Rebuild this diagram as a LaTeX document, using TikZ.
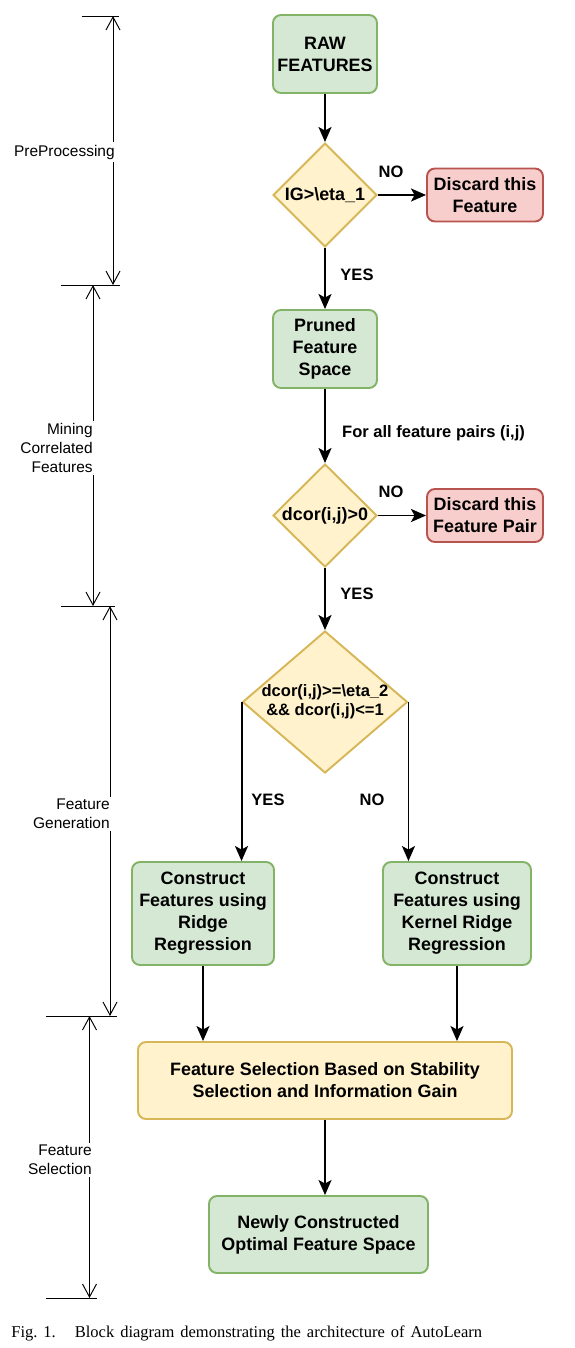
\documentclass[tikz,border=0pt]{standalone}
\usepackage{fontspec}
\setmainfont{Liberation Sans}
\newfontfamily\figcapfont{Liberation Serif}
\usetikzlibrary{shapes.geometric, arrows.meta, positioning}
\begin{document}
\begin{tikzpicture}[node distance=3cm]
    \definecolor{green-fill}{HTML}{d5e8d4}
    \definecolor{green-line}{HTML}{82b366}
    \definecolor{yellow-fill}{HTML}{fff2cc}
    \definecolor{yellow-line}{HTML}{d6b656}
    \definecolor{red-fill}{HTML}{f8cecc}
    \definecolor{red-line}{HTML}{b85450}
    \tikzstyle{every node}=[font=\fontsize{10.2}{12.5}\selectfont\bfseries]
    \tikzstyle{process} = [rectangle, draw=green-line, fill=green-fill, line width=1.1pt, rounded corners=0.16cm, align=center, inner sep=0.05cm]
    \tikzstyle{discard} = [rectangle, draw=red-line, fill=red-fill, line width=1.1pt, rounded corners=0.16cm, align=center, inner sep=0.05cm, minimum width=2.32cm, minimum height=1.06cm]
    \tikzstyle{selection} = [rectangle, draw=yellow-line, fill=yellow-fill, line width=1.1pt, rounded corners=0.16cm, align=center, inner sep=0.05cm]
    \tikzstyle{decision} = [diamond, draw=yellow-line, fill=yellow-fill, line width=1.1pt, align=center, inner sep=0pt, minimum width=2.08cm, minimum height=2.08cm]
    \tikzstyle{flow} = [line width=1.1pt, -{Stealth[length=0.3cm, width=0.26cm, inset=0.07cm]}]
    \tikzstyle{answer} = [font=\fontsize{9.4}{11}\selectfont\bfseries]
    \tikzstyle{dimline} = [line width=0.55pt, {Straight Barb[length=0.26cm, width=0.28cm]}-{Straight Barb[length=0.26cm, width=0.28cm]}]
    \tikzstyle{tick} = [line width=0.55pt]
    \tikzstyle{phase} = [font=\fontsize{8.8}{10.8}\selectfont, fill=white, align=right, inner sep=0.05cm, anchor=east]
    \useasboundingbox (0,0) rectangle (11.5,-26.96);
    % main flow
        \node (raw) [process, minimum width=2.08cm, minimum height=1.56cm] at (6.5,-1.08) {RAW\\FEATURES};
        \node (ig) [decision, below of=raw, node distance=2.82cm] {IG>\textbackslash eta\_1};
        \node (disc1) [discard, right of=ig, node distance=3.2cm] {Discard this\\Feature};
        \node (pruned) [process, below of=ig, node distance=3.08cm, minimum width=2.08cm, minimum height=1.56cm] {Pruned\\Feature\\Space};
        \node (dcor) [decision, below of=pruned, node distance=3.33cm, minimum height=2.06cm] {dcor(i,j)>0};
        \node (disc2) [discard, right of=dcor, node distance=3.2cm] {Discard this\\Feature Pair};
        \node (thresh) [decision, below of=dcor, node distance=3.73cm, minimum width=3.3cm, minimum height=2.84cm,
            label={[answer, align=center]center:dcor(i,j)>=\textbackslash eta\_2\\\&\& dcor(i,j)<=1}] {};
        \node (ridge) [process, below of=thresh, node distance=4.23cm, xshift=-2.44cm, minimum width=2.84cm, minimum height=2.06cm] {Construct\\Features using\\Ridge\\Regression};
        \node (kernel) [process, below of=thresh, node distance=4.23cm, xshift=2.64cm, minimum width=2.96cm, minimum height=2.06cm] {Construct\\Features using\\Kernel Ridge\\Regression};
        \node (select) [selection, below of=ridge, node distance=3.34cm, xshift=2.44cm, minimum width=7.48cm, minimum height=1.54cm] {Feature Selection Based on Stability\\Selection and Information Gain};
        \node (final) [process, below of=select, node distance=3.08cm, xshift=-0.13cm, minimum width=4.38cm, minimum height=1.54cm] {Newly Constructed\\Optimal Feature Space};
    % edge labels
        \node (no1) [answer] at (7.82,-3.44) {NO};
        \node (yes1) [answer] at (7.14,-5.5) {YES};
        \node (pairs) [answer, anchor=west] at (6.72,-8.66) {For all feature pairs (i,j)};
        \node (no2) [answer] at (7.82,-9.84) {NO};
        \node (yes2) [answer] at (7.14,-11.88) {YES};
        \node (yes3) [answer] at (5.36,-16.0) {YES};
        \node (no3) [answer] at (7.44,-16.0) {NO};
    % connectors
        \draw[flow] (raw) -- (ig);
        \draw[flow] (ig) -- (disc1);
        \draw[flow] (ig) -- (pruned);
        \draw[flow] (pruned) -- (dcor);
        \draw[flow] (dcor) -- (disc2);
        \draw[flow] (dcor) -- (thresh);
        \draw[flow] (thresh.west) -- (thresh.west |- ridge.north);
        \draw[flow] (thresh.east) -- (thresh.east |- kernel.north);
        \draw[flow] (ridge) -- (ridge |- select.north);
        \draw[flow] (kernel) -- (kernel |- select.north);
        \draw[flow] (select) -- (select |- final.north);
    % phases on the left
        \coordinate (pre-top) at (2.26,-0.32);
        \coordinate (pre-bot) at (2.26,-5.7);
        \coordinate (mine-top) at (1.86,-5.7);
        \coordinate (mine-bot) at (1.86,-12.12);
        \coordinate (gen-top) at (2.2,-12.12);
        \coordinate (gen-bot) at (2.2,-20.32);
        \coordinate (sel-top) at (1.79,-20.32);
        \coordinate (sel-bot) at (1.79,-25.96);
        \draw[tick] (1.64,-0.32) -- (2.38,-0.32);
        \draw[tick] (1.22,-5.7) -- (2.4,-5.7);
        \draw[tick] (1.22,-12.12) -- (2.3,-12.12);
        \draw[tick] (0.92,-20.32) -- (2.34,-20.32);
        \draw[tick] (0.92,-25.96) -- (1.94,-25.96);
        \draw[dimline] (pre-top) -- (pre-bot);
        \draw[dimline] (mine-top) -- (mine-bot);
        \draw[dimline] (gen-top) -- (gen-bot);
        \draw[dimline] (sel-top) -- (sel-bot);
        \node (pre) [phase] at (2.35,-3.04) {PreProcessing};
        \node (mine) [phase] at (1.91,-8.96) {Mining\\Correlated\\Features};
        \node (gen) [phase] at (2.25,-16.28) {Feature\\Generation};
        \node (sel) [phase] at (1.89,-23.2) {Feature\\Selection};
    % caption
        \node (caption) [font=\figcapfont\fontsize{9.4}{11}\selectfont, anchor=base west, inner sep=0pt] at (0.22,-26.74) {\spaceskip=0.36em Fig.~1.\hspace{0.38cm}Block diagram demonstrating the architecture of AutoLearn};
\end{tikzpicture}
\end{document}
